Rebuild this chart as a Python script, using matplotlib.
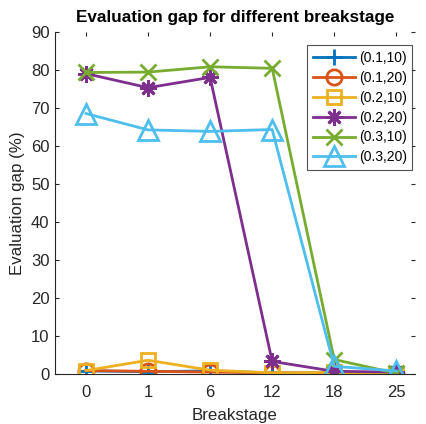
import matplotlib
matplotlib.use("Agg")
import matplotlib.pyplot as plt
import numpy as np

plt.rcParams['font.family'] = ['Liberation Sans', 'DejaVu Sans']

# Breakstage categories
stages = ['0', '1', '6', '12', '18', '25']
labels = ['(0.1,10)', '(0.1,20)', '(0.2,10)', '(0.2,20)', '(0.3,10)', '(0.3,20)']

# Evaluation gap (%) per setting
gap_01_10 = [0.8, 0.6, 0.8, 0.3, 0.3, 0.1]
gap_01_20 = [0.9, 0.7, 0.5, 0.3, 0.2, 0.1]
gap_02_10 = [0.9, 3.6, 1.0, 0.3, 0.4, 0.1]
gap_02_20 = [79.0, 75.3, 78.0, 3.3, 0.7, 0.5]
gap_03_10 = [79.3, 79.4, 80.8, 80.4, 3.8, 0.2]
gap_03_20 = [68.5, 64.2, 63.8, 64.3, 2.0, 0.8]

series = [gap_01_10, gap_01_20, gap_02_10, gap_02_20, gap_03_10, gap_03_20]
colors = ['#0072BD', '#D95319', '#EDB120', '#7E2F8E', '#77AC30', '#4DBEEE']
# matlab-like markers: +, o, square, asterisk (8 spokes), x, triangle
markers = ['+', 'o', 's', (8, 2, 0), 'x', '^']
msizes = [12, 11, 10, 12, 11, 14]

fig = plt.figure(figsize=(4.26, 4.24), dpi=100)
ax = fig.add_axes([0.129, 0.118, 0.845, 0.807])

x = np.arange(1, len(stages) + 1)
for ys, c, m, ms, lab in zip(series, colors, markers, msizes, labels):
    ax.plot(x, ys, color=c, marker=m, markersize=ms, linewidth=2,
            markerfacecolor='none', markeredgewidth=2, label=lab)

ax.set_xlim(0.5, 6.3)
ax.set_ylim(0, 90)
ax.set_xticks(x)
ax.set_xticklabels(stages)
ax.set_yticks(np.arange(0, 91, 10))

for s in ['top', 'right']:
    ax.spines[s].set_visible(False)
for s in ['left', 'bottom']:
    ax.spines[s].set_color('#262626')
    ax.spines[s].set_linewidth(0.8)
ax.tick_params(direction='in', top=True, right=True, length=3,
               labelsize=12, colors='#262626', pad=4)
ax.tick_params(axis='x', pad=8)

ax.set_xlabel('Breakstage', fontsize=12.2, color='#262626', labelpad=6)
ax.set_ylabel('Evaluation gap (%)', fontsize=12.2, color='#262626')
ax.set_title('Evaluation gap for different breakstage', fontsize=12.3,
             fontweight='bold', pad=7)

leg = ax.legend(loc='upper right', bbox_to_anchor=(0.993, 0.96), fontsize=10,
                frameon=True, fancybox=False, handlelength=3.0,
                borderpad=0.4, labelspacing=0.42, handletextpad=0.3,
                borderaxespad=0)
leg.get_frame().set_edgecolor('#262626')
leg.get_frame().set_linewidth(0.8)

fig.savefig('out.png', dpi=100)
